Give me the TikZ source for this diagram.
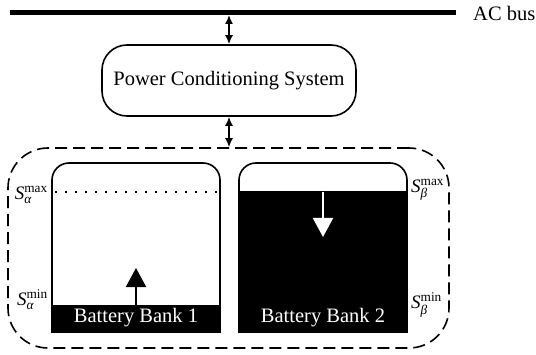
\documentclass[tikz,border=0pt]{standalone}
\usepackage{fontspec}
\usepackage{amsmath}
\setmainfont{Liberation Serif}
\usetikzlibrary{arrows.meta}
\begin{document}
\begin{tikzpicture}[x=1pt,y=1pt,
  lbl/.style={inner sep=0pt,font=\fontsize{19}{22}\selectfont},
  bigtxt/.style={inner sep=0pt,font=\fontsize{20.5}{24}\selectfont},
  dblarrow/.style={line width=1.5pt,{Latex[length=9pt,width=8pt]}-{Latex[length=9pt,width=8pt]}},
  outline/.style={line width=1.6pt}]
\useasboundingbox (0,0) rectangle (536,354);
% bus
\coordinate (busL) at (10,341.5);
\coordinate (busR) at (456,341.5);
\coordinate (busT) at (229,339);
\draw[line width=5pt] (busL) -- (busR);
\node[bigtxt,anchor=west] (acbus) at (473,341) {AC bus};
% PCS
\node[bigtxt,draw,outline,rounded corners=25pt,minimum width=254pt,minimum height=71pt] (pcs) at (229,273.5) {Power Conditioning System};
% dashed enclosure
\node[draw,line width=1.6pt,dash pattern=on 12pt off 6pt,rounded corners=40pt,minimum width=441pt,minimum height=200pt,inner sep=0pt] (bank) at (228.5,106) {};
\draw[dblarrow] (busT) -- (pcs.north);
\draw[dblarrow] (pcs.south) -- (bank.north -| pcs.south);
% battery 1
\fill[black] (52,22) rectangle (220,49);
\draw[outline] (52,22) -- (52,174) arc (180:90:17) -- (203,191) arc (90:0:17) -- (220,22) -- cycle;
\draw[line width=1.5pt,dash pattern=on 1.5pt off 8.5pt] (55,162) -- (220,162);
\coordinate (a1s) at (136,49);
\coordinate (a1e) at (136,86);
\draw[line width=2pt,-{Triangle[length=19pt,width=20pt]}] (a1s) -- (a1e);
\node[bigtxt,text=white] (b1) at (136,36) {Battery Bank 1};
% battery 2
\fill[black] (239,22) rectangle (407,163);
\draw[outline] (239,22) -- (239,174) arc (180:90:17) -- (390,191) arc (90:0:17) -- (407,22) -- cycle;
\coordinate (a2s) at (323,162);
\coordinate (a2e) at (323,117);
\draw[white,line width=2pt,-{Triangle[length=19pt,width=20pt]}] (a2s) -- (a2e);
\node[bigtxt,text=white] (b2) at (323,36) {Battery Bank 2};
% labels
\node[lbl,anchor=east] (samax) at (48,159) {$\textit{S}^{\text{max}}_{\textit{α}}$};
\node[lbl,anchor=east] (samin) at (48,54) {$\textit{S}^{\text{min}}_{\textit{α}}$};
\node[lbl,anchor=west] (sbmax) at (411,164) {$\textit{S}^{\text{max}}_{\textit{β}}$};
\node[lbl,anchor=west] (sbmin) at (411,49) {$\textit{S}^{\text{min}}_{\textit{β}}$};
\end{tikzpicture}
\end{document}
